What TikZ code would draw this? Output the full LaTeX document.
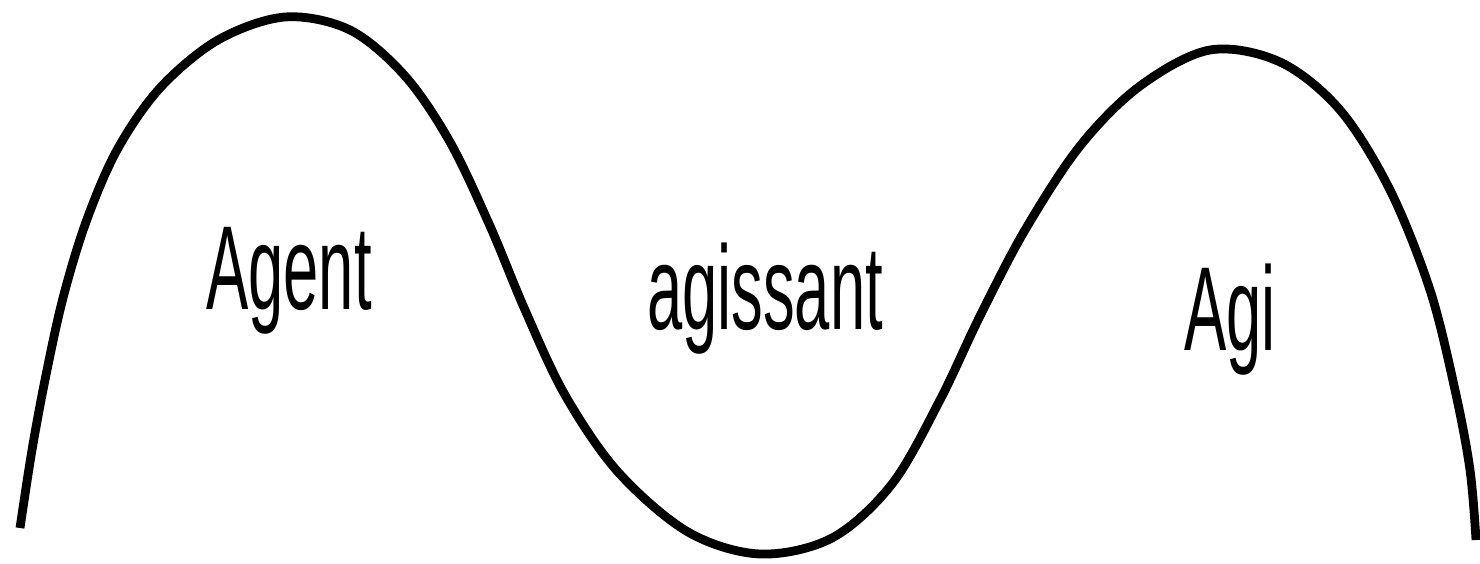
\documentclass[tikz,border=0pt]{standalone}
\usepackage{fontspec}
\setmainfont{Liberation Sans}
\usetikzlibrary{positioning}
\tikzset{
  wavelabel/.style={anchor=base, inner sep=0pt, xscale=0.53,
                    font=\fontsize{68}{70}\selectfont}
}

\begin{document}
\begin{tikzpicture}[x=0.2mm, y=-0.2mm]
  \useasboundingbox (0,0) rectangle (1480,564);

  \draw[line width=5pt, line join=round] plot[smooth, tension=0.55] coordinates {
    (20,528) (32,450) (46,375) (63,298) (86,222) (117,150) (160,88)
    (218,40) (285,17) (350,30) (405,76) (450,142) (490,226) (525,310)
    (565,395) (618,472) (688,532) (760,554) (832,538) (892,484)
    (940,400) (980,316) (1025,230) (1080,146) (1140,86) (1210,50)
    (1280,62) (1340,110) (1390,190) (1430,290) (1455,390) (1470,470)
    (1476,540)};

  \node[wavelabel] (agent) at (289,310) {Agent};
  \node[wavelabel] (agissant) at (765,330) {agissant};
  \node[wavelabel] (agi) at (1230,350) {Agi};
\end{tikzpicture}
\end{document}
